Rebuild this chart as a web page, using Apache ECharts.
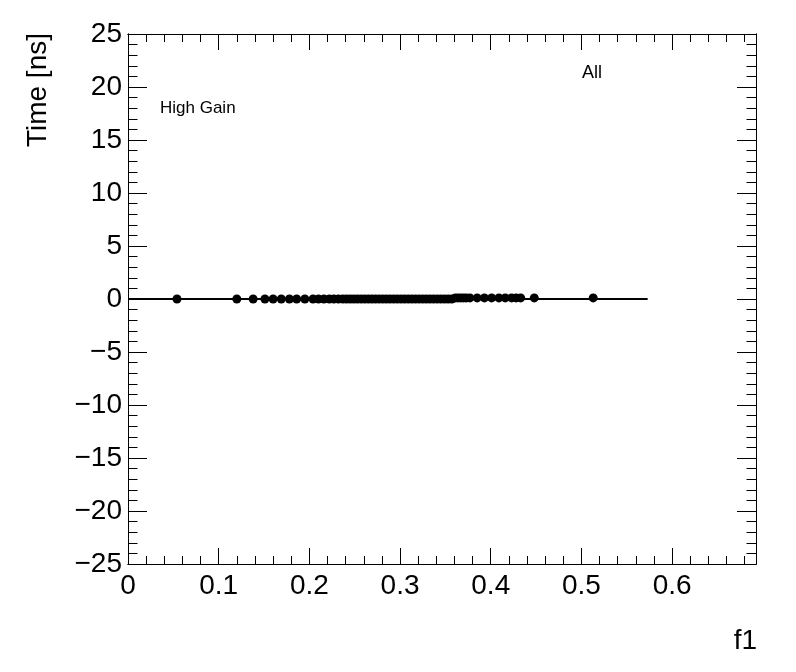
<!DOCTYPE html>
<html>
<head>
<meta charset="utf-8">
<script src="https://cdn.jsdelivr.net/npm/echarts@6/dist/echarts.min.js"></script>
<style>
html,body{margin:0;padding:0;background:#fff;}
#chart{width:796px;height:672px;}
</style>
</head>
<body>
<div id="chart"></div>
<script>
// Points at ~0 ns (low f1 group)
const groupAX = [0.054, 0.120, 0.138, 0.151, 0.160, 0.169, 0.178, 0.186, 0.195, 0.204,
  0.210, 0.216, 0.222, 0.227, 0.232, 0.237, 0.241, 0.245, 0.249, 0.253, 0.257, 0.261,
  0.265, 0.269, 0.273, 0.277, 0.281, 0.285, 0.289, 0.293, 0.297, 0.301, 0.305, 0.309,
  0.313, 0.317, 0.321, 0.325, 0.329, 0.333, 0.337, 0.341, 0.345, 0.349, 0.353, 0.357];
const groupAY = groupAX.map(() => 0.0);
// Points slightly above 0 ns (high f1 group)
const groupBX = [0.361, 0.364, 0.367, 0.370, 0.373, 0.377, 0.385, 0.393, 0.401, 0.409,
  0.416, 0.423, 0.428, 0.433, 0.448, 0.513];
const groupBY = groupBX.map(() => 0.1);
// Horizontal fit line
const lineX = [0, 0.573];
const lineY = [0, 0];

const xMin = 0, xMax = 0.6925, xMajor = 0.1, xMinor = 0.02;
const yMin = -25, yMax = 25, yMajor = 5, yMinor = 1;
const yTitle = 'Time [ns]';
const xTitle = 'f1';
const label1 = 'High Gain';
const label2 = 'All';

const FONT = '"Liberation Sans", Arial, Helvetica, sans-serif';
const scatterData = groupAX.map((x, i) => [x, groupAY[i]])
  .concat(groupBX.map((x, i) => [x, groupBY[i]]));
const lineData = lineX.map((x, i) => [x, lineY[i]]);

function xAx(pos, interval, len, labels) {
  return {
    type: 'value', position: pos, min: xMin, max: xMax, interval: interval,
    axisLine: { show: true, onZero: false, lineStyle: { color: '#000', width: 1 } },
    axisTick: { show: true, inside: true, length: len, lineStyle: { color: '#000', width: 1 } },
    splitLine: { show: false },
    axisLabel: labels ? {
      show: true, color: '#000', fontSize: 28, fontFamily: FONT, margin: 8,
      showMaxLabel: false,
      formatter: v => { const r = Math.round(v * 10) / 10; return Math.abs(v - r) < 1e-6 ? String(r) : ''; }
    } : { show: false }
  };
}
function yAx(pos, interval, len, labels) {
  return {
    type: 'value', position: pos, min: yMin, max: yMax, interval: interval,
    axisLine: { show: true, onZero: false, lineStyle: { color: '#000', width: 1 } },
    axisTick: { show: true, inside: true, length: len, lineStyle: { color: '#000', width: 1 } },
    splitLine: { show: false },
    axisLabel: labels ? {
      show: true, color: '#000', fontSize: 28, fontFamily: FONT, margin: 6,
      showMinLabel: true, showMaxLabel: true,
      formatter: v => v < 0 ? '\u2212' + (-v) : String(v)
    } : { show: false }
  };
}

const chart = echarts.init(document.getElementById('chart'), null, { renderer: 'canvas' });
chart.setOption({
  animation: false,
  backgroundColor: '#fff',
  grid: { left: 128, right: 40, top: 34, bottom: 108, containLabel: false },
  xAxis: [
    xAx('bottom', xMajor, 16, true),
    xAx('bottom', xMinor, 8, false),
    xAx('top', xMajor, 16, false),
    xAx('top', xMinor, 8, false)
  ],
  yAxis: [
    yAx('left', yMajor, 19, true),
    yAx('left', yMinor, 9.5, false),
    yAx('right', yMajor, 19, false),
    yAx('right', yMinor, 9.5, false)
  ],
  graphic: [
    { type: 'text', x: 38, y: 33, rotation: Math.PI / 2,
      style: { text: yTitle, fill: '#000', font: '28px ' + FONT, align: 'right', verticalAlign: 'middle' } },
    { type: 'text', x: 757, y: 641,
      style: { text: xTitle, fill: '#000', font: '28px ' + FONT, align: 'right', verticalAlign: 'middle' } },
    { type: 'text', x: 160, y: 108,
      style: { text: label1, fill: '#000', font: '17px ' + FONT, align: 'left', verticalAlign: 'middle' } },
    { type: 'text', x: 582, y: 73,
      style: { text: label2, fill: '#000', font: '18px ' + FONT, align: 'left', verticalAlign: 'middle' } }
  ],
  series: [
    { type: 'line', xAxisIndex: 0, yAxisIndex: 0, data: lineData, showSymbol: false,
      symbol: 'none', lineStyle: { color: '#000', width: 2 }, z: 2 },
    { type: 'scatter', xAxisIndex: 0, yAxisIndex: 0, data: scatterData, symbol: 'circle',
      symbolSize: 9, itemStyle: { color: '#000', opacity: 1 }, z: 3 }
  ]
});
</script>
</body>
</html>
